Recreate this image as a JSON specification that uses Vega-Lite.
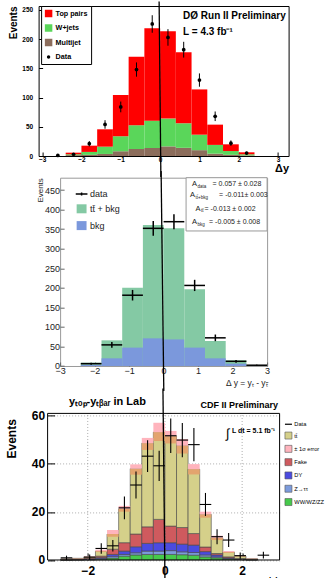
{
  "$schema": "https://vega.github.io/schema/vega-lite/v6.json",
  "background": "white",
  "padding": {"left": 5.6, "top": 0, "right": 0, "bottom": 0},
  "bounds": "flush",
  "center": true,
  "spacing": 21.7,
  "resolve": {"scale": {"color": "independent", "x": "independent", "y": "independent"}, "legend": {"color": "independent"}},
  "config": {
    "font": "Liberation Sans",
    "axis": {"labelFont": "Liberation Sans", "titleFont": "Liberation Sans", "labelColor": "black", "titleColor": "black", "tickColor": "black", "grid": false, "domain": false},
    "legend": {"labelFont": "Liberation Sans", "labelColor": "black"},
    "view": {"stroke": null}
  },
  "vconcat": [
    {
      "width": 250,
      "height": 150,
      "view": {"stroke": "black", "strokeWidth": 1},
      "layer": [
        {
          "data": {"values": [
            {"x0": -2.4, "x1": -2.0, "Multijet": 1.5, "W+jets": 1.5, "Top pairs": 2.7},
            {"x0": -2.0, "x1": -1.6, "Multijet": 2, "W+jets": 5, "Top pairs": 10.7},
            {"x0": -1.6, "x1": -1.2, "Multijet": 3.5, "W+jets": 12.5, "Top pairs": 29.7},
            {"x0": -1.2, "x1": -0.8, "Multijet": 8, "W+jets": 26, "Top pairs": 70.5},
            {"x0": -0.8, "x1": -0.4, "Multijet": 12, "W+jets": 40.5, "Top pairs": 117.5},
            {"x0": -0.4, "x1": 0.0, "Multijet": 13.7, "W+jets": 46.8, "Top pairs": 158.1},
            {"x0": 0.0, "x1": 0.4, "Multijet": 16.5, "W+jets": 47.5, "Top pairs": 149.5},
            {"x0": 0.4, "x1": 0.8, "Multijet": 14, "W+jets": 42, "Top pairs": 121.5},
            {"x0": 0.8, "x1": 1.2, "Multijet": 10, "W+jets": 26.5, "Top pairs": 77.5},
            {"x0": 1.2, "x1": 1.6, "Multijet": 4, "W+jets": 15, "Top pairs": 34.7},
            {"x0": 1.6, "x1": 2.0, "Multijet": 2, "W+jets": 6.5, "Top pairs": 11.5},
            {"x0": 2.0, "x1": 2.4, "Multijet": 1, "W+jets": 2, "Top pairs": 3.3}
          ]},
          "transform": [
            {"fold": ["Multijet", "W+jets", "Top pairs"], "as": ["proc1", "n"]},
            {"stack": "n", "groupby": ["x0"], "as": ["lo", "hi"]}
          ],
          "mark": {"type": "rect"},
          "encoding": {
            "x": {"field": "x0", "type": "quantitative", "scale": {"domain": [-3.089, 3.267], "nice": false, "zero": false},
              "axis": {"values": [-3, -2, -1, 0, 1, 2, 3], "tickCount": 30, "format": "d", "title": "Δy", "titleAnchor": "end", "titleFontSize": 11, "titleFontWeight": "bold", "titleBaseline": "top", "titleY": 6, "labelFontSize": 6.5, "labelFontWeight": "bold", "labelPadding": 4.5, "tickSize": -4, "labelBaseline": "top", "labelOverlap": false, "labelFlush": false, "grid": false}},
            "x2": {"field": "x1"},
            "y": {"field": "lo", "type": "quantitative", "scale": {"domain": [0, 256.8], "nice": false, "zero": false},
              "axis": {"values": [0, 50, 100, 150, 200, 250], "tickCount": 30, "format": "d", "title": "Events", "titleAnchor": "end", "titleFontSize": 10, "titleFontWeight": "bold", "titleX": -20.5, "labelFontSize": 6.5, "labelFontWeight": "bold", "labelPadding": 10, "tickSize": -4, "labelOverlap": false, "labelFlush": false, "grid": false}},
            "y2": {"field": "hi"},
            "color": {"field": "proc1", "type": "nominal",
              "scale": {"domain": ["Top pairs", "W+jets", "Multijet", "Data"], "range": ["#ff0000", "#5ad65a", "#8c6d5c", "#000000"]},
              "legend": {"orient": "none", "legendX": 2.5, "legendY": 0, "title": null, "fillColor": "white", "strokeColor": "black", "padding": 3.5, "labelFontSize": 7.2, "labelFontWeight": "bold", "symbolType": "square", "symbolSize": 56, "symbolStrokeWidth": 0, "rowPadding": 6.5, "labelOffset": 3,
                "encode": {"symbols": {"update": {"shape": {"signal": "datum.value === 'Data' ? 'circle' : 'square'"}, "size": {"signal": "datum.value === 'Data' ? 12 : 56"}}}}}
            }
          }
        },
        {
          "data": {"values": [
            {"x": -2.6, "v": 1, "e": 1}, {"x": -2.2, "v": 3, "e": 1.7}, {"x": -1.8, "v": 21, "e": 4.5},
            {"x": -1.4, "v": 54, "e": 7.3}, {"x": -1.0, "v": 84, "e": 9.2}, {"x": -0.6, "v": 148, "e": 12.2},
            {"x": -0.2, "v": 226, "e": 15}, {"x": 0.2, "v": 203, "e": 14.2}, {"x": 0.6, "v": 182, "e": 13.5},
            {"x": 1.0, "v": 130, "e": 11.4}, {"x": 1.4, "v": 68, "e": 8.2}, {"x": 1.8, "v": 22, "e": 4.7},
            {"x": 2.2, "v": 5, "e": 2.2}
          ]},
          "layer": [
            {"mark": {"type": "errorbar", "color": "black", "thickness": 1},
             "encoding": {"x": {"field": "x", "type": "quantitative", "title": "Δy"}, "y": {"field": "v", "type": "quantitative", "title": "Events"}, "yError": {"field": "e"}}},
            {"mark": {"type": "circle", "color": "black", "size": 14, "opacity": 1},
             "encoding": {"x": {"field": "x", "type": "quantitative", "title": "Δy"}, "y": {"field": "v", "type": "quantitative", "title": "Events"}}}
          ]
        },
        {
          "data": {"values": [{}]},
          "layer": [
            {"mark": {"type": "text", "text": "DØ Run II Preliminary", "align": "left", "baseline": "alphabetic", "fontSize": 10, "fontWeight": "bold", "color": "black"},
             "encoding": {"x": {"datum": 0.585}, "y": {"datum": 234.6}}},
            {"mark": {"type": "text", "text": "L = 4.3 fb⁻¹", "align": "left", "baseline": "alphabetic", "fontSize": 10, "fontWeight": "bold", "color": "black"},
             "encoding": {"x": {"datum": 0.585}, "y": {"datum": 208}}},
            {"mark": {"type": "rule", "color": "black", "strokeWidth": 1.3},
             "encoding": {"x": {"datum": -0.025}, "x2": {"datum": 0.02}, "y": {"datum": 264.5}, "y2": {"datum": -36}}}
          ]
        }
      ]
    },
    {
      "width": 207,
      "height": 188.3,
      "view": {"stroke": "#9a9a9a", "strokeWidth": 1},
      "layer": [
        {
          "data": {"values": [
            {"x0": -2.4, "x1": -1.8, "tt̄ + bkg": 8.5, "bkg": 3},
            {"x0": -1.8, "x1": -1.2, "tt̄ + bkg": 65.6, "bkg": 19.6},
            {"x0": -1.2, "x1": -0.6, "tt̄ + bkg": 200, "bkg": 47},
            {"x0": -0.6, "x1": 0.0, "tt̄ + bkg": 360.5, "bkg": 70.7},
            {"x0": 0.0, "x1": 0.6, "tt̄ + bkg": 352, "bkg": 68},
            {"x0": 0.6, "x1": 1.2, "tt̄ + bkg": 196, "bkg": 47},
            {"x0": 1.2, "x1": 1.8, "tt̄ + bkg": 64, "bkg": 19.6},
            {"x0": 1.8, "x1": 2.4, "tt̄ + bkg": 14.5, "bkg": 6},
            {"x0": 2.4, "x1": 3.0, "tt̄ + bkg": 2.5, "bkg": 1}
          ]},
          "transform": [{"fold": ["tt̄ + bkg", "bkg"], "as": ["proc2", "n"]}],
          "mark": {"type": "rect"},
          "encoding": {
            "x": {"field": "x0", "type": "quantitative", "scale": {"domain": [-3, 3], "nice": false, "zero": false},
              "axis": {"values": [-3, -2, -1, 0, 1, 2, 3], "tickCount": 30, "format": "d", "title": "Δ y = yₜ - yₜ̄", "titleAnchor": "end", "titleFontSize": 8.5, "titleFontWeight": "normal", "titleBaseline": "top", "titleY": 12.5, "titleColor": "#222222", "labelFontSize": 9, "labelPadding": 5, "tickSize": -4, "labelBaseline": "top", "labelColor": "#222222", "tickColor": "#666666", "labelOverlap": false, "labelFlush": false, "grid": false}},
            "x2": {"field": "x1"},
            "y": {"field": "n", "type": "quantitative", "stack": null, "scale": {"domain": [0, 481.5], "nice": false, "zero": false},
              "axis": {"values": [0, 50, 100, 150, 200, 250, 300, 350, 400, 450], "tickCount": 30, "format": "d", "title": "Events", "titleAnchor": "end", "titleFontSize": 8, "titleFontWeight": "normal", "titleX": -15.6, "titleColor": "#222222", "labelFontSize": 9, "labelPadding": 4.7, "tickSize": -4, "labelColor": "#222222", "tickColor": "#666666", "labelOverlap": false, "labelFlush": false, "grid": false}},
            "y2": {"datum": 0},
            "color": {"field": "proc2", "type": "nominal",
              "scale": {"domain": ["data", "tt̄ + bkg", "bkg"], "range": ["#000000", "#84c9a4", "#7b98dc"]},
              "legend": {"orient": "none", "legendX": 16, "legendY": 10.8, "title": null, "labelFontSize": 9, "labelColor": "#222222", "symbolSize": 81, "symbolStrokeWidth": 0, "rowPadding": 1.8, "labelOffset": 3, "padding": 0,
                "encode": {"symbols": {"update": {
                  "shape": {"signal": "datum.value === 'data' ? 'M-1.3,0H1.3M0,-0.35V0.35' : 'M-1.1,-1H1.1V1H-1.1Z'"},
                  "stroke": {"signal": "datum.value === 'data' ? 'black' : 'transparent'"},
                  "strokeWidth": {"value": 1.5}}}}}
            }
          }
        },
        {
          "data": {"values": [{}]},
          "mark": {"type": "rect", "fill": "white", "stroke": "#9a9a9a", "strokeWidth": 1},
          "encoding": {"x": {"datum": 0.652}, "x2": {"datum": 3}, "y": {"datum": 481.5}, "y2": {"datum": 345.3}}
        },
        {
          "data": {"values": [
            {"s": "data", "val": "= 0.057 ± 0.028", "xa": 0.826, "xv": 1.42, "ys": 464.6},
            {"s": "tt̄+bkg", "val": "= -0.011± 0.003", "xa": 0.768, "xv": 1.609, "ys": 436.5},
            {"s": "tt̄", "val": "= -0.013 ± 0.002", "xa": 0.928, "xv": 1.188, "ys": 402.2},
            {"s": "bkg", "val": "= -0.005 ± 0.008", "xa": 0.826, "xv": 1.319, "ys": 368.2}
          ]},
          "layer": [
            {"mark": {"type": "text", "text": "A", "align": "left", "baseline": "middle", "fontSize": 7.5, "color": "#222222"},
             "encoding": {"x": {"field": "xa", "type": "quantitative", "title": "Δ y = yₜ - yₜ̄"}, "y": {"field": "ys", "type": "quantitative", "title": "Events"}}},
            {"mark": {"type": "text", "align": "left", "baseline": "middle", "fontSize": 4.5, "dx": 5.5, "dy": 2.5, "color": "#222222"},
             "encoding": {"x": {"field": "xa", "type": "quantitative", "title": "Δ y = yₜ - yₜ̄"}, "y": {"field": "ys", "type": "quantitative", "title": "Events"}, "text": {"field": "s"}}},
            {"mark": {"type": "text", "align": "left", "baseline": "middle", "fontSize": 7, "color": "#222222"},
             "encoding": {"x": {"field": "xv", "type": "quantitative", "title": "Δ y = yₜ - yₜ̄"}, "y": {"field": "ys", "type": "quantitative", "title": "Events"}, "text": {"field": "val"}}}
          ]
        },
        {
          "data": {"values": [
            {"x0": -2.4, "x1": -1.8, "xc": -2.1, "v": 6, "e": 2.5},
            {"x0": -1.8, "x1": -1.2, "xc": -1.5, "v": 54, "e": 7.3},
            {"x0": -1.2, "x1": -0.6, "xc": -0.9, "v": 181, "e": 13.5},
            {"x0": -0.6, "x1": 0.0, "xc": -0.3, "v": 352, "e": 18.8},
            {"x0": 0.0, "x1": 0.6, "xc": 0.3, "v": 369, "e": 19.2},
            {"x0": 0.6, "x1": 1.2, "xc": 0.9, "v": 206, "e": 14.4},
            {"x0": 1.2, "x1": 1.8, "xc": 1.5, "v": 72, "e": 8.5},
            {"x0": 1.8, "x1": 2.4, "xc": 2.1, "v": 12, "e": 3.5},
            {"x0": 2.4, "x1": 3.0, "xc": 2.7, "v": 2, "e": 1.4}
          ]},
          "layer": [
            {"mark": {"type": "rule", "color": "black", "strokeWidth": 1.5},
             "encoding": {"x": {"field": "x0", "type": "quantitative", "title": "Δ y = yₜ - yₜ̄"}, "x2": {"field": "x1"}, "y": {"field": "v", "type": "quantitative", "title": "Events"}}},
            {"mark": {"type": "errorbar", "color": "black", "thickness": 1.5},
             "encoding": {"x": {"field": "xc", "type": "quantitative", "title": "Δ y = yₜ - yₜ̄"}, "y": {"field": "v", "type": "quantitative", "title": "Events"}, "yError": {"field": "e"}}}
          ]
        },
        {
          "data": {"values": [{}]},
          "mark": {"type": "rule", "color": "black", "strokeWidth": 1.3},
          "encoding": {"x": {"datum": -0.072}, "x2": {"datum": 0.006}, "y": {"datum": 498.7}, "y2": {"datum": -64}}
        }
      ]
    },
    {
      "width": 232,
      "height": 171.6,
      "view": {"stroke": null},
      "layer": [
        {
          "data": {"values": [
            {"x0": -2.7, "x1": -2.4, "WW/WZ/ZZ": 0, "Z→ττ": 0, "DY": 0.05, "Fake": 0.25, "tt̄": 0.15},
            {"x0": -2.4, "x1": -2.1, "WW/WZ/ZZ": 0.05, "Z→ττ": 0.05, "DY": 0.05, "Fake": 0.25, "tt̄": 0.3},
            {"x0": -2.1, "x1": -1.8, "WW/WZ/ZZ": 0.1, "Z→ττ": 0.1, "DY": 0.2, "Fake": 0.4, "tt̄": 0.5},
            {"x0": -1.8, "x1": -1.5, "WW/WZ/ZZ": 0.3, "Z→ττ": 0.3, "DY": 0.4, "Fake": 0.6, "tt̄": 2.1},
            {"x0": -1.5, "x1": -1.2, "WW/WZ/ZZ": 0.8, "Z→ττ": 0.7, "DY": 0.8, "Fake": 2.2, "tt̄": 6.3},
            {"x0": -1.2, "x1": -0.9, "WW/WZ/ZZ": 1.6, "Z→ττ": 0.7, "DY": 1.4, "Fake": 3.5, "tt̄": 14.1},
            {"x0": -0.9, "x1": -0.6, "WW/WZ/ZZ": 2.1, "Z→ττ": 0.9, "DY": 2.5, "Fake": 5.3, "tt̄": 27.2},
            {"x0": -0.6, "x1": -0.3, "WW/WZ/ZZ": 2.3, "Z→ττ": 1.4, "DY": 3.2, "Fake": 6.9, "tt̄": 34.8},
            {"x0": -0.3, "x1": 0.0, "WW/WZ/ZZ": 2.3, "Z→ττ": 1.4, "DY": 3.5, "Fake": 9.7, "tt̄": 36.3},
            {"x0": 0.0, "x1": 0.3, "WW/WZ/ZZ": 2.3, "Z→ττ": 1.6, "DY": 3.3, "Fake": 6.9, "tt̄": 37.4},
            {"x0": 0.3, "x1": 0.6, "WW/WZ/ZZ": 2.2, "Z→ττ": 1.2, "DY": 3.2, "Fake": 6.9, "tt̄": 34.1},
            {"x0": 0.6, "x1": 0.9, "WW/WZ/ZZ": 2.0, "Z→ττ": 1.1, "DY": 3.1, "Fake": 4.8, "tt̄": 26.8},
            {"x0": 0.9, "x1": 1.2, "WW/WZ/ZZ": 1.3, "Z→ττ": 0.8, "DY": 1.4, "Fake": 1.9, "tt̄": 13.6},
            {"x0": 1.2, "x1": 1.5, "WW/WZ/ZZ": 0.9, "Z→ττ": 0.4, "DY": 0.8, "Fake": 0.6, "tt̄": 6.5},
            {"x0": 1.5, "x1": 1.8, "WW/WZ/ZZ": 0.4, "Z→ττ": 0.2, "DY": 0.3, "Fake": 0.4, "tt̄": 2.0},
            {"x0": 1.8, "x1": 2.1, "WW/WZ/ZZ": 0.2, "Z→ττ": 0.1, "DY": 0.1, "Fake": 0.2, "tt̄": 1.0},
            {"x0": 2.1, "x1": 2.4, "WW/WZ/ZZ": 0.05, "Z→ττ": 0.05, "DY": 0.1, "Fake": 0.1, "tt̄": 0.2}
          ]},
          "transform": [
            {"fold": ["WW/WZ/ZZ", "Z→ττ", "DY", "Fake", "tt̄"], "as": ["proc3", "n"]},
            {"stack": "n", "groupby": ["x0"], "as": ["lo", "hi"]}
          ],
          "mark": {"type": "rect", "stroke": "#444444", "strokeWidth": 0.6},
          "encoding": {
            "x": {"field": "x0", "type": "quantitative", "scale": {"domain": [-3.04, 2.97], "nice": false, "zero": false},
              "axis": {"values": [-2, 0, 2], "tickCount": 30, "format": "d", "title": "Δyˡᵃᵇ", "titleAnchor": "end", "titleFontSize": 12, "titleFontWeight": "bold", "titleBaseline": "top", "titleY": 18, "labelFontSize": 12, "labelFontWeight": "bold", "labelPadding": 12.5, "tickSize": -7, "labelBaseline": "top", "labelOverlap": false, "labelFlush": false, "grid": false}},
            "x2": {"field": "x1"},
            "y": {"field": "lo", "type": "quantitative", "scale": {"domain": [0, 71.4], "nice": false, "zero": false},
              "axis": {"values": [0, 20, 40, 60], "tickCount": 30, "format": "d", "title": "Events", "titleAnchor": "end", "titleAlign": "right", "titleY": 30.3, "titleX": -28.9, "titleFontSize": 12, "titleFontWeight": "bold", "labelFontSize": 12, "labelFontWeight": "bold", "labelPadding": 10, "tickSize": -7, "labelOverlap": false, "labelFlush": false, "grid": true, "gridDash": [1, 2], "gridColor": "#999999", "gridWidth": 0.8}},
            "y2": {"field": "hi"},
            "color": {"field": "proc3", "type": "nominal",
              "scale": {"domain": ["Data", "tt̄", "± 1σ error", "Fake", "DY", "Z→ττ", "WW/WZ/ZZ"], "range": ["#000000", "#d5d08a", "#ffb4bd", "#cf5a5e", "#4b4be0", "#7c9bdc", "#46c94b"]},
              "legend": {"orient": "none", "legendX": 238, "legendY": 33, "title": null, "labelFontSize": 5.7, "symbolSize": 49, "symbolType": "square", "rowPadding": 3.3, "labelOffset": 3, "padding": 0, "symbolStrokeColor": "#555555", "symbolStrokeWidth": 0.6,
                "encode": {"symbols": {"update": {
                  "shape": {"signal": "datum.value === 'Data' ? 'M-1,0H1' : 'square'"},
                  "stroke": {"signal": "datum.value === 'Data' ? 'black' : '#555555'"},
                  "strokeWidth": {"signal": "datum.value === 'Data' ? 1.2 : 0.6"}}}}}
            }
          }
        },
        {
          "data": {"values": [{"g": -2}, {"g": 0}, {"g": 2}]},
          "mark": {"type": "rule", "color": "#999999", "strokeWidth": 0.8, "strokeDash": [1, 2]},
          "encoding": {"x": {"field": "g", "type": "quantitative", "title": "Δyˡᵃᵇ"}, "y": {"datum": 0}, "y2": {"datum": 61}}
        },
        {
          "data": {"values": [
            {"x0": -2.7, "x1": -2.4, "lo": 0.4, "mid": 0.45, "hi": 0.5},
            {"x0": -2.4, "x1": -2.1, "lo": 0.6, "mid": 0.7, "hi": 0.8},
            {"x0": -2.1, "x1": -1.8, "lo": 1.1, "mid": 1.3, "hi": 1.5},
            {"x0": -1.8, "x1": -1.5, "lo": 3.3, "mid": 3.7, "hi": 4.3},
            {"x0": -1.5, "x1": -1.2, "lo": 9.7, "mid": 10.8, "hi": 12.5},
            {"x0": -1.2, "x1": -0.9, "lo": 20.1, "mid": 21.3, "hi": 22.5},
            {"x0": -0.9, "x1": -0.6, "lo": 35.5, "mid": 38.0, "hi": 39.8},
            {"x0": -0.6, "x1": -0.3, "lo": 45.8, "mid": 48.6, "hi": 50.8},
            {"x0": -0.3, "x1": 0.0, "lo": 49.5, "mid": 53.2, "hi": 57.1},
            {"x0": 0.0, "x1": 0.3, "lo": 48.5, "mid": 51.5, "hi": 53.7},
            {"x0": 0.3, "x1": 0.6, "lo": 44.3, "mid": 47.6, "hi": 50.3},
            {"x0": 0.6, "x1": 0.9, "lo": 35.6, "mid": 37.8, "hi": 39.9},
            {"x0": 0.9, "x1": 1.2, "lo": 17.6, "mid": 19.0, "hi": 20.1},
            {"x0": 1.2, "x1": 1.5, "lo": 8.3, "mid": 9.2, "hi": 10.1},
            {"x0": 1.5, "x1": 1.8, "lo": 2.9, "mid": 3.3, "hi": 3.7},
            {"x0": 1.8, "x1": 2.1, "lo": 1.4, "mid": 1.6, "hi": 1.8},
            {"x0": 2.1, "x1": 2.4, "lo": 0.4, "mid": 0.5, "hi": 0.6}
          ]},
          "layer": [
            {"mark": {"type": "rect", "color": "#e3a46e"},
             "encoding": {"x": {"field": "x0", "type": "quantitative", "title": "Δyˡᵃᵇ"}, "x2": {"field": "x1"}, "y": {"field": "lo", "type": "quantitative", "title": "Events"}, "y2": {"field": "mid"}}},
            {"mark": {"type": "rect", "color": "#ffb4bd"},
             "encoding": {"x": {"field": "x0", "type": "quantitative", "title": "Δyˡᵃᵇ"}, "x2": {"field": "x1"}, "y": {"field": "mid", "type": "quantitative", "title": "Events"}, "y2": {"field": "hi"}}}
          ]
        },
        {
          "data": {"values": [
            {"x0": -2.7, "x1": -2.4, "xc": -2.55, "v": 0.9, "e": 0.9},
            {"x0": -2.1, "x1": -1.8, "xc": -1.95, "v": 1.2, "e": 1.1},
            {"x0": -1.8, "x1": -1.5, "xc": -1.65, "v": 4.8, "e": 2.2},
            {"x0": -1.5, "x1": -1.2, "xc": -1.35, "v": 5.9, "e": 2.4},
            {"x0": -1.2, "x1": -0.9, "xc": -1.05, "v": 21.7, "e": 4.7},
            {"x0": -0.9, "x1": -0.6, "xc": -0.75, "v": 31.2, "e": 5.6},
            {"x0": -0.6, "x1": -0.3, "xc": -0.45, "v": 43.2, "e": 6.6},
            {"x0": -0.3, "x1": 0.0, "xc": -0.15, "v": 39.2, "e": 6.3},
            {"x0": 0.0, "x1": 0.3, "xc": 0.15, "v": 51.7, "e": 7.2},
            {"x0": 0.3, "x1": 0.6, "xc": 0.45, "v": 49.9, "e": 7.1},
            {"x0": 0.6, "x1": 0.9, "xc": 0.75, "v": 48.0, "e": 6.9},
            {"x0": 0.9, "x1": 1.2, "xc": 1.05, "v": 23.1, "e": 4.8},
            {"x0": 1.2, "x1": 1.5, "xc": 1.35, "v": 9.7, "e": 3.1},
            {"x0": 1.5, "x1": 1.8, "xc": 1.65, "v": 8.3, "e": 2.9},
            {"x0": 1.8, "x1": 2.1, "xc": 1.95, "v": 1.8, "e": 1.3},
            {"x0": 2.4, "x1": 2.7, "xc": 2.55, "v": 2.0, "e": 1.4}
          ]},
          "layer": [
            {"mark": {"type": "rule", "color": "black", "strokeWidth": 1.1},
             "encoding": {"x": {"field": "x0", "type": "quantitative", "title": "Δyˡᵃᵇ"}, "x2": {"field": "x1"}, "y": {"field": "v", "type": "quantitative", "title": "Events"}}},
            {"mark": {"type": "errorbar", "color": "black", "thickness": 1.1},
             "encoding": {"x": {"field": "xc", "type": "quantitative", "title": "Δyˡᵃᵇ"}, "y": {"field": "v", "type": "quantitative", "title": "Events"}, "yError": {"field": "e"}}}
          ]
        },
        {
          "data": {"values": [{}]},
          "layer": [
            {"mark": {"type": "rect", "filled": false, "color": "black", "strokeWidth": 1},
             "encoding": {"x": {"datum": -3.04}, "x2": {"datum": 2.97}, "y": {"datum": 0}, "y2": {"datum": 61}}},
            {"mark": {"type": "text", "text": "yₜₒₚ-yₜᵦₐᵣ in Lab", "align": "left", "baseline": "alphabetic", "fontSize": 11, "fontWeight": "bold", "color": "black"},
             "encoding": {"x": {"datum": -2.487}, "y": {"datum": 64.5}}},
            {"mark": {"type": "text", "text": "CDF II Preliminary", "align": "right", "baseline": "alphabetic", "fontSize": 9, "fontWeight": "bold", "color": "black"},
             "encoding": {"x": {"datum": 2.927}, "y": {"datum": 63.3}}},
            {"mark": {"type": "text", "text": "∫", "align": "left", "baseline": "alphabetic", "fontSize": 13, "color": "black"},
             "encoding": {"x": {"datum": 1.58}, "y": {"datum": 50.8}}},
            {"mark": {"type": "text", "text": "L dt = 5.1 fb⁻¹", "align": "left", "baseline": "alphabetic", "fontSize": 7, "fontWeight": "bold", "color": "black"},
             "encoding": {"x": {"datum": 1.736}, "y": {"datum": 52.9}}},
            {"mark": {"type": "rule", "color": "black", "strokeWidth": 1.3},
             "encoding": {"x": {"datum": -0.052}, "x2": {"datum": 0}, "y": {"datum": 71.4}, "y2": {"datum": -8.2}}}
          ]
        }
      ]
    }
  ]
}
